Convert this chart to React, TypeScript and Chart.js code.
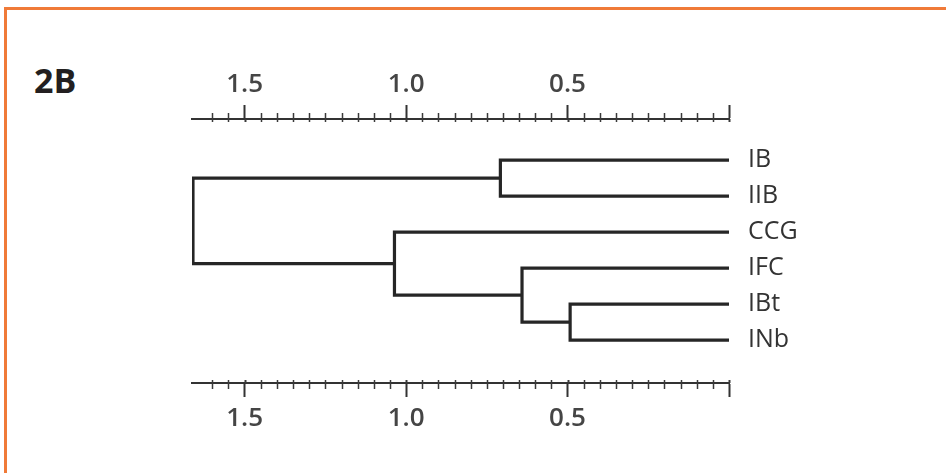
import React, { useEffect, useRef } from "react";
import { Chart, registerables } from "chart.js";

Chart.register(...registerables);

// ---- data ----
const leaves = ["IB", "IIB", "CCG", "IFC", "IBt", "INb"];
// linkage: pairs of node indices joined at a height (leaves are 0..5, merges 6..)
const mergeA = [4, 3, 0, 2, 8];
const mergeB = [5, 6, 1, 7, 9];
const mergeHeights = [0.492, 0.641, 0.708, 1.036, 1.66];
const axisMax = 1.663;
const minorStep = 0.05;
const minorCount = 32; // ticks from 0 to 1.6
const majorTicks = [0, 0.5, 1.0, 1.5];
const majorLabels = ["", "0.5", "1.0", "1.5"];

const LINE = "#262626";
const FONT = "'Open Sans', 'DejaVu Sans', sans-serif";

function round2(v: number) {
  return Math.round(v * 100) / 100;
}
function isMajor(v: number) {
  return majorTicks.some((m) => Math.abs(m - v) < 1e-6);
}
function labelFor(v: number) {
  const i = majorTicks.findIndex((m) => Math.abs(m - v) < 1e-6);
  return i >= 0 ? majorLabels[i] : "";
}

const tickVals: number[] = [];
for (let i = 0; i <= minorCount; i++) tickVals.push(round2(i * minorStep));

function buildDatasets() {
  const nodeY: number[] = leaves.map((_, i) => i);
  const nodeH: number[] = leaves.map(() => 0);
  const ds: any[] = [];
  mergeA.forEach((a, k) => {
    const b = mergeB[k];
    const h = mergeHeights[k];
    ds.push({
      data: [
        { x: nodeH[a], y: nodeY[a] },
        { x: h, y: nodeY[a] },
        { x: h, y: nodeY[b] },
        { x: nodeH[b], y: nodeY[b] },
      ],
      showLine: true,
      borderColor: LINE,
      borderWidth: 3.2,
      pointRadius: 0,
      fill: false,
      tension: 0,
      borderJoinStyle: "miter",
      borderCapStyle: "butt",
      xAxisID: "x",
      yAxisID: "y",
    });
    nodeY.push((nodeY[a] + nodeY[b]) / 2);
    nodeH.push(h);
  });
  return ds;
}

const minorTickPlugin = {
  id: "minorTicks",
  afterDraw(chart: any) {
    const ctx = chart.ctx;
    ctx.save();
    ctx.strokeStyle = "#3a3a3a";
    ["x", "x2"].forEach((id) => {
      const s = chart.scales[id];
      const top = id === "x";
      const ly = top ? s.bottom : s.top;
      tickVals.forEach((v) => {
        const px = Math.round(s.getPixelForValue(v)) + 0.5;
        ctx.beginPath();
        if (isMajor(v)) {
          ctx.lineWidth = 2;
          ctx.moveTo(px, ly);
          ctx.lineTo(px, top ? ly + 3 : ly - 3);
        } else {
          ctx.lineWidth = 1.5;
          ctx.moveTo(px, top ? ly - 6 : ly + 6);
          ctx.lineTo(px, top ? ly + 3 : ly - 3);
        }
        ctx.stroke();
      });
    });
    ctx.restore();
  },
};

function xScale(position: "top" | "bottom", height: number, pad: number) {
  return {
    type: "linear",
    position,
    min: 0,
    max: axisMax,
    reverse: true,
    afterBuildTicks: (s: any) => {
      s.ticks = tickVals.map((v) => ({ value: v }));
    },
    afterFit: (s: any) => {
      s.height = height;
    },
    ticks: {
      autoSkip: false,
      maxRotation: 0,
      padding: pad,
      color: "#454545",
      font: { family: FONT, size: 26, weight: "600" },
      callback: (v: number) => labelFor(round2(v)),
    },
    grid: {
      drawOnChartArea: false,
      drawTicks: true,
      tickLength: 14,
      tickWidth: 2,
      tickColor: (c: any) =>
        c.tick && isMajor(round2(c.tick.value)) ? "#333" : "rgba(0,0,0,0)",
    },
    border: { display: true, color: "#333", width: 2 },
  };
}

export default function App() {
  const ref = useRef<HTMLCanvasElement | null>(null);
  useEffect(() => {
    if (!ref.current) return;
    const chart = new Chart(ref.current, {
      type: "scatter",
      data: { datasets: buildDatasets() },
      options: {
        animation: false,
        responsive: false,
        maintainAspectRatio: false,
        layout: { padding: { left: 192, top: 0, right: 0, bottom: 0 } },
        plugins: {
          legend: { display: false },
          tooltip: { enabled: false },
          title: { display: false },
        },
        scales: {
          x: xScale("top", 119, 5) as any,
          x2: xScale("bottom", 90, 6) as any,
          y: {
            type: "linear",
            position: "right",
            reverse: true,
            min: -1.14,
            max: 6.19,
            afterBuildTicks: (s: any) => {
              s.ticks = leaves.map((_, i) => ({ value: i }));
            },
            afterFit: (s: any) => {
              s.width = 217;
            },
            ticks: {
              autoSkip: false,
              padding: 19,
              color: "#333",
              font: { family: FONT, size: 25 },
              callback: (v: number) => leaves[Math.round(v)] ?? "",
            },
            grid: { display: false, drawTicks: false },
            border: { display: false },
          } as any,
        },
      },
      plugins: [minorTickPlugin],
    });
    return () => chart.destroy();
  }, []);

  return (
    <div
      style={{
        position: "fixed",
        left: 0,
        top: 0,
        width: 946,
        height: 473,
        background: "#fff",
        overflow: "hidden",
      }}
    >
      <div
        style={{
          position: "absolute",
          left: 4,
          top: 7,
          width: 1200,
          height: 1200,
          borderTop: "3px solid #f07a38",
          borderLeft: "3px solid #f07a38",
        }}
      />
      <div
        style={{
          position: "absolute",
          left: 34,
          top: 63,
          fontFamily: FONT,
          fontWeight: 700,
          fontSize: 34,
          lineHeight: "34px",
          color: "#231f20",
        }}
      >
        2B
      </div>
      <canvas
        ref={ref}
        width={946}
        height={473}
        style={{ position: "absolute", left: 0, top: 0, display: "block" }}
      />
    </div>
  );
}
